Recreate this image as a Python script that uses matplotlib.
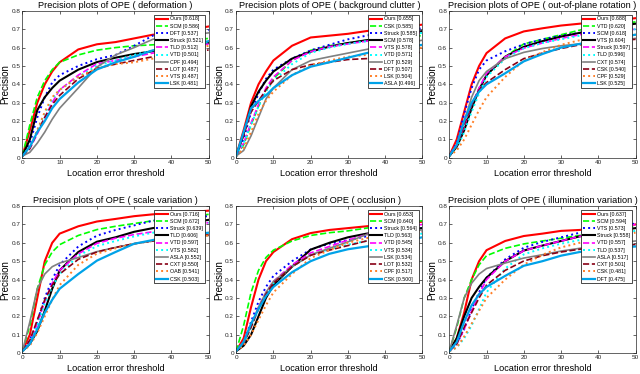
import matplotlib
matplotlib.use("Agg")
import matplotlib.pyplot as plt

plt.rcParams['font.family'] = ['Liberation Sans', 'DejaVu Sans']

# location error thresholds (px) at which the curves were read
thresholds = [0, 2, 4, 6, 8, 10, 15, 20, 25, 30, 35, 40, 50]

# ---- deformation
def_names = ['Ours', 'SCM', 'DFT', 'Struck', 'TLD', 'VTD', 'CPF', 'LOT', 'VTS', 'LSK']
def_scores = [0.618, 0.586, 0.537, 0.521, 0.512, 0.501, 0.494, 0.487, 0.487, 0.481]
def_curves = [
    [0.01, 0.15, 0.30, 0.40, 0.47, 0.52, 0.59, 0.618, 0.63, 0.65, 0.67, 0.68, 0.715],
    [0.01, 0.18, 0.33, 0.42, 0.48, 0.52, 0.56, 0.586, 0.60, 0.61, 0.615, 0.625, 0.65],
    [0.01, 0.08, 0.22, 0.33, 0.41, 0.45, 0.50, 0.537, 0.56, 0.61, 0.665, 0.68, 0.695],
    [0.01, 0.10, 0.26, 0.33, 0.38, 0.42, 0.48, 0.521, 0.545, 0.565, 0.58, 0.595, 0.625],
    [0.01, 0.05, 0.13, 0.22, 0.30, 0.37, 0.45, 0.512, 0.53, 0.55, 0.57, 0.59, 0.62],
    [0.01, 0.06, 0.15, 0.24, 0.32, 0.37, 0.44, 0.501, 0.53, 0.56, 0.585, 0.60, 0.63],
    [0.01, 0.03, 0.08, 0.14, 0.21, 0.27, 0.38, 0.494, 0.56, 0.60, 0.645, 0.66, 0.68],
    [0.01, 0.05, 0.14, 0.22, 0.29, 0.34, 0.43, 0.487, 0.51, 0.53, 0.55, 0.565, 0.587],
    [0.01, 0.06, 0.15, 0.25, 0.33, 0.37, 0.44, 0.487, 0.51, 0.52, 0.54, 0.56, 0.61],
    [0.01, 0.06, 0.14, 0.20, 0.27, 0.32, 0.41, 0.481, 0.52, 0.55, 0.585, 0.60, 0.635],
]

# ---- background clutter
bc_names = ['Ours', 'CSK', 'Struck', 'SCM', 'VTS', 'VTD', 'LOT', 'DFT', 'LSK', 'ASLA']
bc_scores = [0.655, 0.585, 0.585, 0.578, 0.578, 0.571, 0.529, 0.507, 0.504, 0.496]
bc_curves = [
    [0.01, 0.15, 0.30, 0.40, 0.47, 0.53, 0.61, 0.655, 0.665, 0.675, 0.69, 0.70, 0.725],
    [0.01, 0.07, 0.18, 0.28, 0.37, 0.43, 0.53, 0.585, 0.61, 0.625, 0.64, 0.65, 0.665],
    [0.01, 0.10, 0.25, 0.35, 0.43, 0.48, 0.54, 0.585, 0.615, 0.645, 0.665, 0.685, 0.705],
    [0.01, 0.13, 0.28, 0.36, 0.42, 0.47, 0.54, 0.578, 0.605, 0.625, 0.64, 0.655, 0.69],
    [0.01, 0.08, 0.19, 0.29, 0.38, 0.44, 0.53, 0.578, 0.605, 0.62, 0.635, 0.65, 0.685],
    [0.01, 0.08, 0.18, 0.28, 0.36, 0.42, 0.51, 0.571, 0.60, 0.62, 0.635, 0.65, 0.68],
    [0.01, 0.04, 0.12, 0.22, 0.32, 0.38, 0.48, 0.529, 0.55, 0.57, 0.59, 0.61, 0.64],
    [0.01, 0.12, 0.25, 0.31, 0.37, 0.42, 0.48, 0.507, 0.52, 0.535, 0.54, 0.55, 0.575],
    [0.01, 0.05, 0.14, 0.24, 0.31, 0.36, 0.45, 0.504, 0.53, 0.55, 0.56, 0.575, 0.60],
    [0.01, 0.14, 0.27, 0.31, 0.34, 0.38, 0.45, 0.496, 0.52, 0.545, 0.57, 0.59, 0.615],
]

# ---- out-of-plane rotation
opr_names = ['Ours', 'VTD', 'SCM', 'VTS', 'Struck', 'TLD', 'CXT', 'CSK', 'CPF', 'LSK']
opr_scores = [0.688, 0.620, 0.618, 0.604, 0.597, 0.596, 0.574, 0.540, 0.529, 0.525]
opr_curves = [
    [0.01, 0.10, 0.25, 0.40, 0.50, 0.57, 0.65, 0.688, 0.705, 0.72, 0.73, 0.74, 0.76],
    [0.01, 0.06, 0.16, 0.28, 0.38, 0.45, 0.55, 0.62, 0.645, 0.67, 0.695, 0.715, 0.74],
    [0.01, 0.08, 0.24, 0.38, 0.48, 0.53, 0.58, 0.618, 0.645, 0.665, 0.68, 0.69, 0.71],
    [0.01, 0.06, 0.15, 0.27, 0.37, 0.45, 0.55, 0.604, 0.635, 0.66, 0.68, 0.70, 0.73],
    [0.01, 0.07, 0.17, 0.29, 0.38, 0.46, 0.55, 0.597, 0.625, 0.65, 0.67, 0.685, 0.70],
    [0.01, 0.05, 0.14, 0.25, 0.35, 0.44, 0.54, 0.596, 0.625, 0.645, 0.665, 0.68, 0.70],
    [0.01, 0.07, 0.20, 0.33, 0.42, 0.47, 0.54, 0.574, 0.595, 0.61, 0.62, 0.63, 0.65],
    [0.01, 0.06, 0.18, 0.29, 0.37, 0.41, 0.48, 0.54, 0.57, 0.595, 0.615, 0.63, 0.645],
    [0.01, 0.04, 0.10, 0.18, 0.26, 0.33, 0.44, 0.529, 0.575, 0.615, 0.64, 0.66, 0.67],
    [0.01, 0.07, 0.20, 0.30, 0.36, 0.40, 0.46, 0.525, 0.565, 0.60, 0.62, 0.64, 0.67],
]

# ---- scale variation
sv_names = ['Ours', 'SCM', 'Struck', 'TLD', 'VTD', 'VTS', 'ASLA', 'CXT', 'OAB', 'CSK']
sv_scores = [0.716, 0.672, 0.639, 0.606, 0.597, 0.582, 0.552, 0.550, 0.541, 0.503]
sv_curves = [
    [0.01, 0.10, 0.30, 0.50, 0.60, 0.65, 0.69, 0.716, 0.73, 0.745, 0.755, 0.76, 0.775],
    [0.01, 0.15, 0.35, 0.48, 0.55, 0.59, 0.64, 0.672, 0.69, 0.705, 0.72, 0.73, 0.755],
    [0.01, 0.07, 0.17, 0.30, 0.40, 0.48, 0.58, 0.639, 0.67, 0.695, 0.72, 0.735, 0.745],
    [0.01, 0.05, 0.12, 0.23, 0.35, 0.45, 0.55, 0.606, 0.63, 0.66, 0.68, 0.695, 0.725],
    [0.01, 0.06, 0.16, 0.28, 0.38, 0.45, 0.54, 0.597, 0.625, 0.645, 0.66, 0.675, 0.71],
    [0.01, 0.05, 0.15, 0.27, 0.36, 0.43, 0.53, 0.582, 0.61, 0.635, 0.655, 0.67, 0.71],
    [0.01, 0.17, 0.35, 0.43, 0.47, 0.49, 0.52, 0.552, 0.575, 0.595, 0.61, 0.62, 0.64],
    [0.01, 0.07, 0.18, 0.29, 0.37, 0.43, 0.51, 0.55, 0.575, 0.595, 0.61, 0.62, 0.645],
    [0.01, 0.04, 0.11, 0.20, 0.29, 0.37, 0.48, 0.541, 0.57, 0.595, 0.61, 0.62, 0.64],
    [0.01, 0.05, 0.13, 0.22, 0.29, 0.35, 0.43, 0.503, 0.55, 0.595, 0.615, 0.635, 0.655],
]

# ---- occlusion
occ_names = ['Ours', 'SCM', 'Struck', 'TLD', 'VTD', 'VTS', 'LSK', 'LOT', 'CPF', 'CSK']
occ_scores = [0.653, 0.640, 0.564, 0.563, 0.545, 0.534, 0.534, 0.532, 0.517, 0.500]
occ_curves = [
    [0.01, 0.08, 0.25, 0.40, 0.50, 0.55, 0.62, 0.653, 0.67, 0.68, 0.69, 0.70, 0.715],
    [0.01, 0.15, 0.33, 0.45, 0.52, 0.56, 0.61, 0.64, 0.655, 0.665, 0.68, 0.695, 0.72],
    [0.01, 0.06, 0.17, 0.28, 0.36, 0.42, 0.50, 0.564, 0.595, 0.615, 0.635, 0.655, 0.68],
    [0.01, 0.04, 0.10, 0.20, 0.30, 0.37, 0.47, 0.563, 0.60, 0.63, 0.65, 0.66, 0.68],
    [0.01, 0.06, 0.15, 0.25, 0.33, 0.39, 0.48, 0.545, 0.58, 0.615, 0.645, 0.67, 0.70],
    [0.01, 0.05, 0.14, 0.24, 0.32, 0.38, 0.47, 0.534, 0.565, 0.59, 0.61, 0.625, 0.65],
    [0.01, 0.06, 0.15, 0.25, 0.33, 0.39, 0.47, 0.534, 0.57, 0.605, 0.645, 0.66, 0.67],
    [0.01, 0.05, 0.14, 0.24, 0.32, 0.38, 0.47, 0.532, 0.56, 0.585, 0.61, 0.63, 0.66],
    [0.01, 0.04, 0.10, 0.18, 0.26, 0.33, 0.43, 0.517, 0.56, 0.60, 0.625, 0.645, 0.665],
    [0.01, 0.06, 0.16, 0.24, 0.31, 0.36, 0.44, 0.50, 0.54, 0.565, 0.58, 0.595, 0.63],
]

# ---- illumination variation
iv_names = ['Ours', 'SCM', 'VTS', 'Struck', 'VTD', 'TLD', 'ASLA', 'CXT', 'CSK', 'DFT']
iv_scores = [0.637, 0.594, 0.573, 0.558, 0.557, 0.537, 0.517, 0.501, 0.481, 0.475]
iv_curves = [
    [0.01, 0.08, 0.22, 0.40, 0.50, 0.56, 0.61, 0.637, 0.65, 0.665, 0.67, 0.68, 0.70],
    [0.01, 0.14, 0.30, 0.40, 0.48, 0.53, 0.57, 0.594, 0.61, 0.625, 0.64, 0.655, 0.69],
    [0.01, 0.05, 0.13, 0.24, 0.33, 0.41, 0.51, 0.573, 0.605, 0.63, 0.655, 0.675, 0.705],
    [0.01, 0.08, 0.20, 0.30, 0.36, 0.41, 0.50, 0.558, 0.585, 0.61, 0.635, 0.65, 0.68],
    [0.01, 0.05, 0.13, 0.23, 0.32, 0.40, 0.50, 0.557, 0.585, 0.61, 0.635, 0.66, 0.70],
    [0.01, 0.03, 0.08, 0.15, 0.24, 0.33, 0.46, 0.537, 0.57, 0.595, 0.615, 0.635, 0.665],
    [0.01, 0.15, 0.30, 0.38, 0.43, 0.46, 0.49, 0.517, 0.535, 0.555, 0.57, 0.585, 0.61],
    [0.01, 0.05, 0.14, 0.22, 0.30, 0.37, 0.45, 0.501, 0.53, 0.55, 0.565, 0.575, 0.59],
    [0.01, 0.03, 0.09, 0.16, 0.23, 0.30, 0.40, 0.481, 0.535, 0.575, 0.60, 0.63, 0.655],
    [0.01, 0.06, 0.17, 0.26, 0.32, 0.36, 0.42, 0.475, 0.50, 0.53, 0.55, 0.565, 0.58],
]

# rank based draw style (OTB toolkit style)
colors = [(1, 0, 0), (0, 1, 0), (0, 0, 1), (0, 0, 0), (1, 0, 1), (0, 1, 1),
          (0.5, 0.5, 0.5), (136/255, 0, 21/255), (1, 127/255, 39/255), (0, 162/255, 232/255)]
styles = ['-', '--', ':', '-', '--', ':', '-', '--', ':', '-']
widths = [1.5, 1.2, 1.4, 1.5, 1.2, 1.4, 1.2, 1.2, 1.4, 1.6]

panels = [
    ('deformation', def_names, def_scores, def_curves),
    ('background clutter', bc_names, bc_scores, bc_curves),
    ('out-of-plane rotation', opr_names, opr_scores, opr_curves),
    ('scale variation', sv_names, sv_scores, sv_curves),
    ('occlusion', occ_names, occ_scores, occ_curves),
    ('illumination variation', iv_names, iv_scores, iv_curves),
]

fig = plt.figure(figsize=(6.4, 3.74), dpi=100)
lefts = [0.035, 0.369, 0.702]
bottoms = [0.578, 0.056]

for i, (attr, names, scores, curves) in enumerate(panels):
    ax = fig.add_axes([lefts[i % 3], bottoms[i // 3], 0.291, 0.393])
    for k in range(len(names)):
        ax.plot(thresholds, curves[k], color=colors[k], linestyle=styles[k],
                linewidth=widths[k], label='%s [%.3f]' % (names[k], scores[k]))
    ax.set_xlim(0, 50)
    ax.set_ylim(0, 0.8)
    ax.set_xticks([0, 10, 20, 30, 40, 50])
    ax.set_yticks([0, 0.1, 0.2, 0.3, 0.4, 0.5, 0.6, 0.7, 0.8])
    ax.set_yticklabels(['0', '0.1', '0.2', '0.3', '0.4', '0.5', '0.6', '0.7', '0.8'])
    ax.tick_params(labelsize=4.6, length=2, width=0.5, direction='in', pad=1.5,
                   colors='#262626', top=True, right=True)
    for s in ax.spines.values():
        s.set_linewidth(0.5)
        s.set_color('#262626')
    ax.set_title('Precision plots of OPE ( %s )' % attr, fontsize=6.6, pad=2)
    ax.set_xlabel('Location error threshold', fontsize=6.6, labelpad=3)
    ax.set_ylabel('Precision', fontsize=7, labelpad=0.5)
    leg = ax.legend(loc='upper right', bbox_to_anchor=(0.98, 0.975), fontsize=3.8,
                    handlelength=2.3, labelspacing=0.42, borderpad=0.35,
                    handletextpad=0.35, borderaxespad=0, fancybox=False, framealpha=1)
    leg.get_frame().set_edgecolor('black')
    leg.get_frame().set_linewidth(0.5)

fig.savefig('out.png', dpi=100)
